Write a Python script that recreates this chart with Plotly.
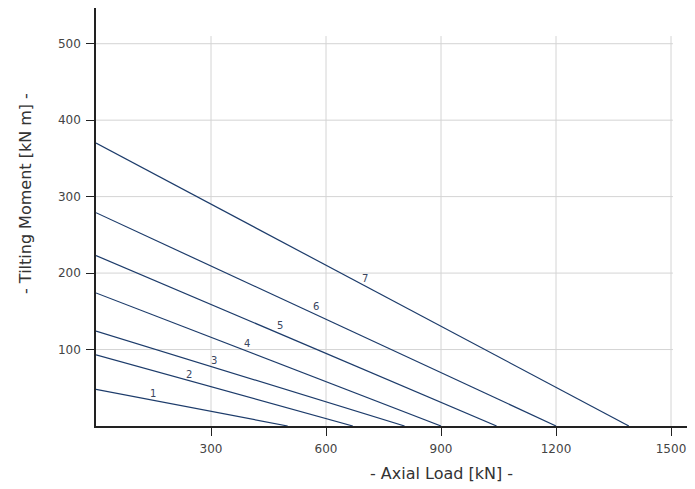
import plotly.graph_objects as go

# Data: each curve is a straight limit line from (0, moment_at_zero) to (load_at_zero, 0)
curve_names = ["1", "2", "3", "4", "5", "6", "7"]
moment_at_zero_load = [48, 93, 124, 174, 223, 279, 370]     # kN m
load_at_zero_moment = [500, 670, 805, 900, 1045, 1200, 1390]  # kN

# label positions for curve numbers
label_x = [149, 243, 309, 393, 480, 574, 702]
label_y = [43, 68, 86, 108, 132, 156, 193]

x_ticks = [300, 600, 900, 1200, 1500]
y_ticks = [100, 200, 300, 400, 500]

line_color = "#1d3c6b"
font_family = "DejaVu Sans"

fig = go.Figure()
for name, m0, l0 in zip(curve_names, moment_at_zero_load, load_at_zero_moment):
    fig.add_trace(go.Scatter(
        x=[0, l0], y=[m0, 0], mode="lines", name=name,
        line=dict(color=line_color, width=1.2), showlegend=False,
        hoverinfo="skip"))

for name, lx, ly in zip(curve_names, label_x, label_y):
    fig.add_annotation(x=lx, y=ly, text=name, showarrow=False,
                       font=dict(family=font_family, size=10, color="#3a4660"))

# Grid drawn as shapes so it stops at the last tick
for xv in x_ticks:
    fig.add_shape(type="line", xref="x", yref="y", x0=xv, x1=xv, y0=0, y1=510,
                  line=dict(color="#d4d4d4", width=1), layer="below")
for yv in y_ticks:
    fig.add_shape(type="line", xref="x", yref="y", x0=0, x1=1505, y0=yv, y1=yv,
                  line=dict(color="#d4d4d4", width=1), layer="below")

# Axis titles
fig.add_annotation(x=900, xref="x", y=0, yref="paper", yanchor="middle", yshift=-47,
                   text="- Axial Load [kN] -", showarrow=False,
                   font=dict(family=font_family, size=16, color="#333333"))
fig.add_annotation(x=0, xref="paper", xanchor="center", xshift=-71,
                   y=0.555, yref="paper", yanchor="middle",
                   text="- Tilting Moment [kN m] -", showarrow=False, textangle=-90,
                   font=dict(family=font_family, size=16, color="#333333"))

fig.update_layout(
    width=695, height=489,
    margin=dict(l=88, r=8, t=0, b=71),
    plot_bgcolor="white", paper_bgcolor="white",
    font=dict(family=font_family, size=12, color="#444444"),
    xaxis=dict(range=[0, 1562.6], tickvals=x_ticks, ticktext=[str(v) for v in x_ticks],
               showgrid=False, zeroline=False, showline=True, linecolor="#222222",
               linewidth=1.5, ticks="outside", ticklen=8, tickcolor="#222222",
               ticklabelstandoff=3,
               automargin=False, tickfont=dict(size=12, color="#444444")),
    yaxis=dict(range=[0, 546.7], tickvals=y_ticks, ticktext=[str(v) for v in y_ticks],
               showgrid=False, zeroline=False, showline=True, linecolor="#222222",
               linewidth=1.5, ticks="outside", ticklen=8, tickcolor="#222222",
               ticklabelstandoff=3,
               automargin=False, tickfont=dict(size=12, color="#444444")),
)

fig.write_html("out.html")
